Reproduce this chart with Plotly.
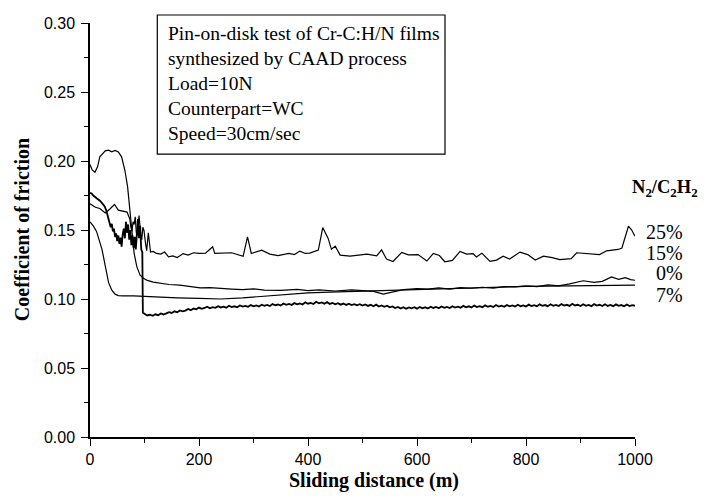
import plotly.graph_objects as go

# ---------------- data ----------------
# 25 % curve
x_25 = [0, 10, 18, 28, 36, 45, 52, 60, 64, 68, 71, 73, 75, 77, 79, 81, 83, 85, 87, 90, 93, 95, 97, 99,
        102, 104, 107, 111, 116, 122, 130, 137, 144, 152, 160, 171, 180, 190, 200, 212, 220, 225, 229,
        240, 260, 281, 289, 296, 315, 330, 345, 365, 375, 385, 395, 403, 412, 419, 427, 437, 443, 450,
        459, 477, 493, 508, 526, 535, 544, 556, 572, 584, 602, 618, 630, 641, 651, 665, 679, 691, 703,
        709, 719, 734, 746, 758, 770, 789, 803, 817, 832, 848, 862, 883, 893, 905, 923, 935, 948, 960,
        969, 976, 982, 988, 994, 1000]
y_25 = [0.1690, 0.1665, 0.1656, 0.1624, 0.1650, 0.1685, 0.1644, 0.1636, 0.1632, 0.1630, 0.1600, 0.1580,
        0.1520, 0.1490, 0.1560, 0.1540, 0.1595, 0.1480, 0.1460, 0.1605, 0.1470, 0.1430, 0.1520, 0.1497,
        0.1400, 0.1350, 0.1480, 0.1340, 0.1345, 0.1330, 0.1325, 0.1340, 0.1306, 0.1312, 0.1300, 0.1329,
        0.1318, 0.1335, 0.1330, 0.1332, 0.1360, 0.1378, 0.1330, 0.1333, 0.1335, 0.1310, 0.1450, 0.1330,
        0.1354, 0.1325, 0.1315, 0.1330, 0.1322, 0.1347, 0.1330, 0.1332, 0.1345, 0.1354, 0.1518, 0.1439,
        0.1360, 0.1383, 0.1318, 0.1310, 0.1318, 0.1325, 0.1312, 0.1356, 0.1290, 0.1272, 0.1338, 0.1320,
        0.1322, 0.1275, 0.1330, 0.1315, 0.1270, 0.1280, 0.1345, 0.1325, 0.1328, 0.1305, 0.1332, 0.1272,
        0.1282, 0.1310, 0.1290, 0.1340, 0.1322, 0.1282, 0.1310, 0.1300, 0.1285, 0.1292, 0.1335, 0.1332,
        0.1330, 0.1322, 0.1349, 0.1352, 0.1359, 0.1370, 0.1450, 0.1528, 0.1500, 0.1455]

# 15 % curve
x_15 = [0, 4, 9, 14, 18, 24, 28, 34, 40, 46, 52, 58, 64, 69, 73, 77, 81, 86, 92, 98, 104, 116, 128, 145,
        165, 185, 202, 220, 239, 260, 280, 300, 320, 350, 380, 400, 420, 450, 480, 500, 520, 538, 555,
        575, 600, 620, 640, 660, 680, 700, 720, 740, 760, 780, 800, 820, 840, 860, 880, 905, 925, 940,
        957, 970, 982, 992, 1000]
y_15 = [0.1974, 0.1935, 0.1918, 0.1960, 0.2030, 0.2060, 0.2074, 0.2078, 0.2066, 0.2077, 0.2066, 0.2030,
        0.1933, 0.1812, 0.1644, 0.1499, 0.1330, 0.1233, 0.1173, 0.1150, 0.1137, 0.1122, 0.1113, 0.1105,
        0.1101, 0.1090, 0.1080, 0.1082, 0.1075, 0.1072, 0.1068, 0.1074, 0.1064, 0.1062, 0.1070, 0.1060,
        0.1066, 0.1058, 0.1066, 0.1062, 0.1055, 0.1035, 0.1052, 0.1068, 0.1075, 0.1072, 0.1080, 0.1071,
        0.1082, 0.1078, 0.1085, 0.1079, 0.1090, 0.1088, 0.1095, 0.1090, 0.1102, 0.1095, 0.1110, 0.1132,
        0.1120, 0.1128, 0.1160, 0.1142, 0.1155, 0.1140, 0.1136]

# 0 % curve
x_0 = [0, 6, 12, 18, 22, 28, 34, 40, 46, 52, 60, 80, 100, 128, 160, 200, 240, 280, 320, 360, 400, 440,
       480, 520, 560, 600, 640, 680, 720, 760, 800, 840, 880, 920, 960, 1000]
y_0 = [0.1559, 0.1530, 0.1490, 0.1420, 0.1360, 0.1240, 0.1120, 0.1064, 0.1035, 0.1025, 0.1022, 0.1022,
       0.1018, 0.1012, 0.1008, 0.1004, 0.1000, 0.1008, 0.1020, 0.1035, 0.1045, 0.1050, 0.1055, 0.1060,
       0.1066, 0.1070, 0.1075, 0.1080, 0.1084, 0.1088, 0.1091, 0.1094, 0.1096, 0.1100, 0.1103, 0.1100]

# 7 % curve (noisy): running-in part, then steady part
x_7_start = [0, 3, 6, 9, 12, 15, 18, 21, 24, 27, 30, 33, 36, 38, 40, 42, 44, 46, 48, 50, 52, 54, 56, 58,
             60, 62, 64, 66, 68, 70, 72, 74, 76, 78, 80, 82, 84, 86, 88, 90, 92, 94, 96, 97]
y_7_start = [0.1770, 0.1765, 0.1750, 0.1742, 0.1730, 0.1725, 0.1712, 0.1700, 0.1688, 0.1670, 0.1640,
             0.1600, 0.1560, 0.1520, 0.1545, 0.1490, 0.1510, 0.1450, 0.1475, 0.1420, 0.1460, 0.1400,
             0.1445, 0.1380, 0.1470, 0.1510, 0.1440, 0.1560, 0.1480, 0.1540, 0.1430, 0.1500, 0.1390,
             0.1460, 0.1370, 0.1450, 0.1360, 0.1520, 0.1580, 0.1440, 0.1530, 0.1360, 0.1340, 0.0900]
x_7_steady = [100, 105, 110, 115, 120, 125, 130, 135, 140, 145, 150, 155, 160, 165, 170, 175, 180, 185,
              190, 195, 200, 205, 210, 215, 220, 225, 230, 235, 240, 245, 250, 255, 260, 265, 270, 275,
              280, 285, 290, 295, 300, 305, 310, 315, 320, 325, 330, 335, 340, 345, 350, 355, 360, 365,
              370, 375, 380, 385, 390, 395, 400, 405, 410, 415, 420, 425, 430, 435, 440, 445, 450, 455,
              460, 465, 470, 475, 480, 485, 490, 495, 500, 505, 510, 515, 520, 525, 530, 535, 540, 545,
              550, 555, 560, 565, 570, 575, 580, 585, 590, 595, 600, 605, 610, 615, 620, 625, 630, 635,
              640, 645, 650, 655, 660, 665, 670, 675, 680, 685, 690, 695, 700, 705, 710, 715, 720, 725,
              730, 735, 740, 745, 750, 755, 760, 765, 770, 775, 780, 785, 790, 795, 800, 805, 810, 815,
              820, 825, 830, 835, 840, 845, 850, 855, 860, 865, 870, 875, 880, 885, 890, 895, 900, 905,
              910, 915, 920, 925, 930, 935, 940, 945, 950, 955, 960, 965, 970, 975, 980, 985, 990, 995,
              1000]
y_7_steady = [0.0892, 0.0881, 0.0887, 0.0878, 0.0889, 0.0883, 0.0895, 0.0888, 0.0896, 0.0905, 0.0899,
              0.0911, 0.0904, 0.0917, 0.0910, 0.0916, 0.0928, 0.0919, 0.0931, 0.0925, 0.0938, 0.0929,
              0.0935, 0.0944, 0.0933, 0.0941, 0.0936, 0.0948, 0.0939, 0.0945, 0.0937, 0.0951, 0.0942,
              0.0947, 0.0940, 0.0953, 0.0945, 0.0950, 0.0943, 0.0956, 0.0947, 0.0954, 0.0946, 0.0959,
              0.0951, 0.0957, 0.0949, 0.0963, 0.0955, 0.0960, 0.0953, 0.0967, 0.0958, 0.0964, 0.0957,
              0.0970, 0.0961, 0.0968, 0.0960, 0.0976, 0.0966, 0.0972, 0.0964, 0.0980, 0.0969, 0.0975,
              0.0966, 0.0977, 0.0964, 0.0971, 0.0962, 0.0970, 0.0959, 0.0967, 0.0957, 0.0966, 0.0956,
              0.0963, 0.0954, 0.0962, 0.0952, 0.0960, 0.0950, 0.0958, 0.0948, 0.0959, 0.0945, 0.0953,
              0.0944, 0.0951, 0.0940, 0.0946, 0.0934, 0.0942, 0.0931, 0.0940, 0.0929, 0.0939, 0.0932,
              0.0941, 0.0930, 0.0942, 0.0933, 0.0940, 0.0931, 0.0944, 0.0935, 0.0942, 0.0933, 0.0946,
              0.0936, 0.0943, 0.0935, 0.0948, 0.0938, 0.0945, 0.0937, 0.0950, 0.0940, 0.0947, 0.0939,
              0.0952, 0.0942, 0.0948, 0.0941, 0.0954, 0.0944, 0.0950, 0.0942, 0.0956, 0.0945, 0.0951,
              0.0944, 0.0957, 0.0947, 0.0953, 0.0945, 0.0958, 0.0948, 0.0954, 0.0946, 0.0959, 0.0949,
              0.0955, 0.0947, 0.0961, 0.0950, 0.0956, 0.0948, 0.0962, 0.0951, 0.0957, 0.0949, 0.0963,
              0.0952, 0.0958, 0.0950, 0.0965, 0.0953, 0.0958, 0.0949, 0.0962, 0.0951, 0.0957, 0.0948,
              0.0963, 0.0952, 0.0958, 0.0949, 0.0962, 0.0950, 0.0957, 0.0948, 0.0961, 0.0950, 0.0956,
              0.0947, 0.0960, 0.0949, 0.0956, 0.0951]

series_labels = ["25%", "15%", "0%", "7%"]
label_y = [0.1485, 0.1335, 0.1185, 0.1030]   # vertical position of the right-hand labels (data units)
header_text = "N<sub>2</sub>/C<sub>2</sub>H<sub>2</sub>"
box_lines = ["Pin-on-disk test of Cr-C:H/N films", "synthesized by CAAD process",
             "Load=10N", "Counterpart=WC", "Speed=30cm/sec"]
x_ticks = [0, 200, 400, 600, 800, 1000]
y_ticks = [0.00, 0.05, 0.10, 0.15, 0.20, 0.25, 0.30]

SERIF = "Liberation Serif, Times New Roman, serif"
SANS = "Liberation Sans, Arial, sans-serif"

# The page body has an 8px margin; the figure is sized so that it exactly fills the window.
W, H = 698, 488
PL, PR, PT, PB = 82, 627, 14.7, 429   # plot-area edges in figure pixels
PW, PH = PR - PL, PB - PT


def px(xw):
    """window x pixel -> paper x"""
    return (xw - 8 - PL) / PW


def py(yw):
    """window y pixel -> paper y"""
    return (PB - (yw - 8)) / PH


fig = go.Figure()
for xs, ys, name, w in [(x_25, y_25, "25%", 1.2), (x_15, y_15, "15%", 1.2),
                        (x_0, y_0, "0%", 1.2), (x_7_start + x_7_steady, y_7_start + y_7_steady, "7%", 1.8)]:
    fig.add_trace(go.Scatter(x=xs, y=ys, mode="lines", name=name,
                             line=dict(color="black", width=w), showlegend=False))

axis_common = dict(showline=True, linecolor="black", linewidth=1.5, ticks="outside",
                   ticklen=7, tickwidth=1.3, tickcolor="black", showgrid=False, zeroline=False,
                   mirror=False, tickfont=dict(family=SANS, size=16, color="black"))
fig.update_xaxes(range=[0, 1000], tickvals=x_ticks,
                 minor=dict(dtick=100, tick0=0, ticklen=4, tickwidth=1.3, tickcolor="black", ticks="outside"),
                 **axis_common)
fig.update_yaxes(range=[0, 0.30], tickvals=y_ticks, tickformat=".2f", ticklabelstandoff=3,
                 minor=dict(dtick=0.025, tick0=0, ticklen=4, tickwidth=1.3, tickcolor="black", ticks="outside"),
                 **axis_common)

# box with test conditions
fig.add_shape(type="rect", xref="paper", yref="paper", x0=px(157.3), x1=px(445), y0=py(154), y1=py(14.7),
              line=dict(color="black", width=1.2), fillcolor="white", layer="above")
box_y_px = [33.3, 58.3, 83.3, 108.3, 133.3]
for line_text, ypos in zip(box_lines, box_y_px):
    fig.add_annotation(text=line_text, xref="paper", yref="paper",
                       x=px(166.0), y=py(ypos), xanchor="left", yanchor="middle",
                       showarrow=False, font=dict(family=SERIF, size=19.5, color="black"))

# right-hand labels
fig.add_annotation(text="<b>" + header_text + "</b>", xref="paper", yref="paper",
                   x=px(630), y=py(188), xanchor="left", yanchor="middle",
                   showarrow=False, font=dict(family=SERIF, size=18.5, color="black"))
for lab, ly in zip(series_labels, label_y):
    fig.add_annotation(text=lab, xref="paper", yref="y", x=px(685), y=ly,
                       xanchor="right", yanchor="middle", showarrow=False,
                       font=dict(family=SERIF, size=20, color="black"))

# axis titles
fig.add_annotation(text="<b>Sliding distance (m)</b>", xref="paper", yref="paper",
                   x=px(374), y=py(481), xanchor="center", yanchor="middle",
                   showarrow=False, font=dict(family=SERIF, size=20, color="black"))
fig.add_annotation(text="<b>Coefficient of friction</b>", xref="paper", yref="paper",
                   x=px(22), y=py(230), xanchor="center", yanchor="middle",
                   textangle=-90, showarrow=False, font=dict(family=SERIF, size=20, color="black"))

fig.update_layout(width=W, height=H, margin=dict(l=PL, r=W - PR, t=PT, b=H - PB, autoexpand=False),
                  plot_bgcolor="white", paper_bgcolor="white")

fig.write_html("out.html")
